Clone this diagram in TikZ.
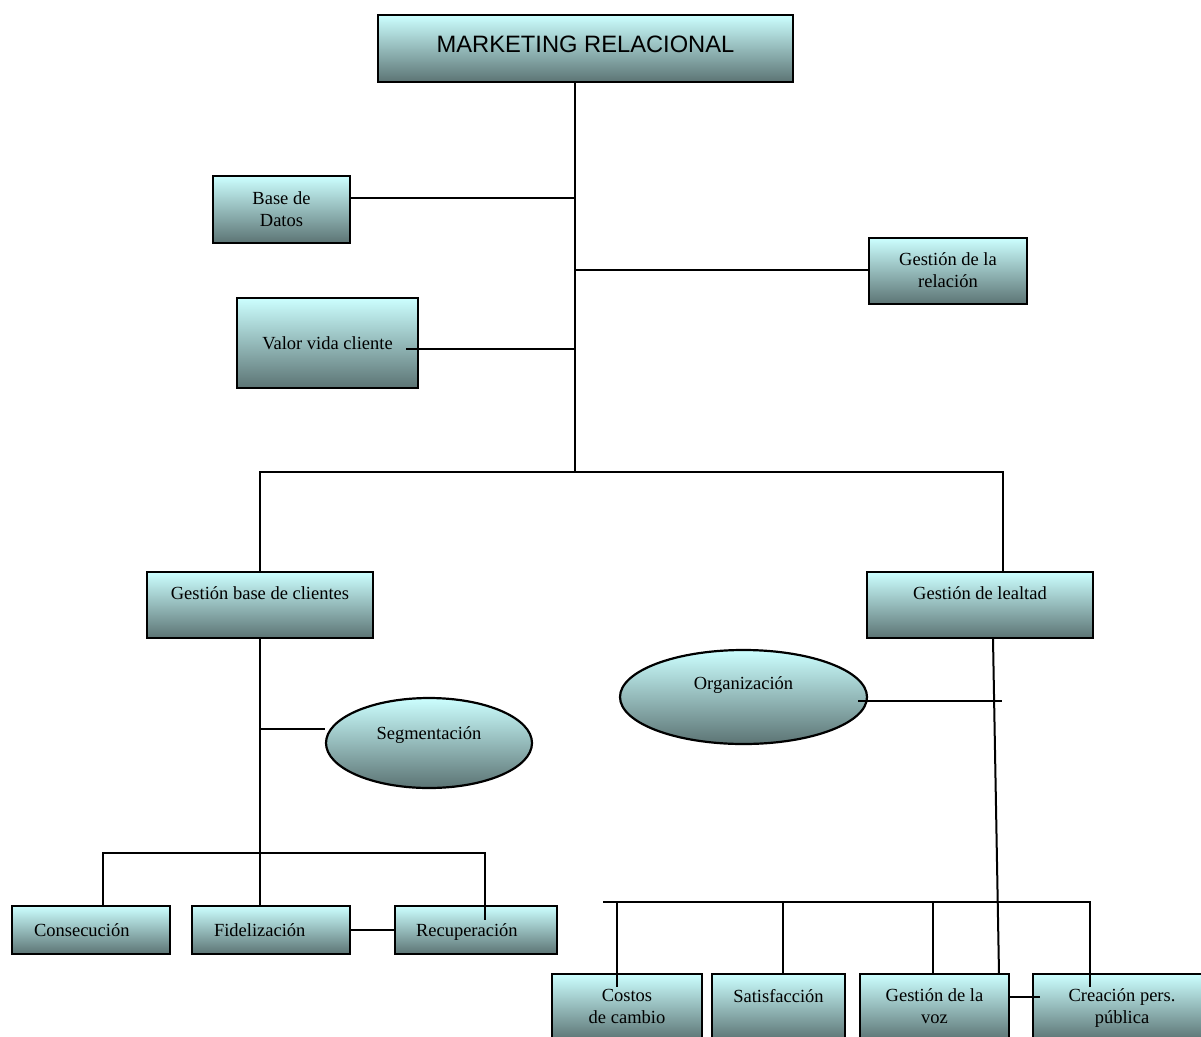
\documentclass[tikz,border=0pt]{standalone}
\usepackage{fontspec}
\setmainfont{Liberation Serif}
\newfontfamily\headfont{Liberation Sans}
\usetikzlibrary{shapes.geometric}
\definecolor{boxtop}{RGB}{204,255,255}
\definecolor{boxbot}{RGB}{92,116,116}
% two-line label with fixed line metrics
\newcommand\twolines[2]{\rule{0pt}{15pt}#1\\#2\rule[-4pt]{0pt}{4pt}}
\tikzset{
  shadebox/.style={draw=black, line width=2.2pt, top color=boxtop, bottom color=boxbot,
    align=center, inner sep=0pt, font=\fontsize{18.5}{22}\selectfont},
  rbox/.style 2 args={shadebox, rectangle, minimum width=#1, minimum height=#2},
  ebox/.style 2 args={shadebox, ellipse, minimum width=#1, minimum height=#2},
  raised/.style={text height=13pt, text depth=#1},
  leftbox/.style={align=left, text width=#1, text height=13pt, text depth=0pt},
  conn/.style={draw=black, line width=2pt},
}
\begin{document}
\begin{tikzpicture}[x=1pt,y=-1pt]
\clip (0,0) rectangle (1201,1036);

% boxes
\node[rbox={415pt}{67pt}, font=\headfont\fontsize{23.7}{28}\selectfont,
      text height=17pt, text depth=10pt] (mr) at (585.5,48.5) {MARKETING RELACIONAL};
\node[rbox={137pt}{67pt}] (bd) at (281.5,209.5) {\twolines{Base de}{Datos}};
\node[rbox={181pt}{90pt}] (vvc) at (327.5,343) {Valor vida cliente};
\node[rbox={158pt}{66pt}] (gr) at (948,271) {\twolines{Gestión de la}{relación}};
\node[rbox={226pt}{66pt}, raised=24pt] (gbc) at (260,605) {Gestión base de clientes};
\node[rbox={226pt}{66pt}, raised=24pt] (gl) at (980,605) {Gestión de lealtad};
\node[ebox={206pt}{90pt}, raised=20pt] (seg) at (429,743) {Segmentación};
\node[ebox={247pt}{94pt}, raised=28pt] (org) at (743.5,697) {Organización};
\node[rbox={158pt}{48pt}, leftbox=114pt] (cons) at (91,930) {Consecución};
\node[rbox={158pt}{48pt}, leftbox=114pt] (fid) at (271,930) {Fidelización};
\node[rbox={162pt}{48pt}, leftbox=120pt] (rec) at (476,930) {Recuperación};
\node[rbox={150pt}{66pt}] (cc) at (627,1007) {\twolines{Costos}{de cambio}};
\node[rbox={133pt}{66pt}, raised=22pt] (sat) at (778.5,1007) {Satisfacción};
\node[rbox={149pt}{66pt}] (gv) at (934.5,1007) {\twolines{Gestión de la}{voz}};
\node[rbox={178pt}{66pt}] (cp) at (1122,1007) {\twolines{Creación pers.}{pública}};

% junction points
\coordinate (jTop) at (575,472);
\coordinate (jBD) at (575,198);
\coordinate (jGR) at (575,270);
\coordinate (jVV) at (575,349);
\coordinate (vvIn) at ([xshift=-13pt]vvc.east);
\coordinate (jL) at (260,472);
\coordinate (jR) at (1003,472);
\coordinate (jSeg) at (260,729);
\coordinate (jCons) at (102.5,852.5);
\coordinate (jRec) at (485,852.5);
\coordinate (recIn) at (485,920);
\coordinate (glOut) at ([xshift=13pt]gl.south);
\coordinate (gvIn) at (999,974);
\coordinate (jOrg) at (1002,701);
\coordinate (orgIn) at (858,701);
\coordinate (bL) at (603,902);
\coordinate (bCC) at (617,902);
\coordinate (ccIn) at (617,987);
\coordinate (bSat) at (783,902);
\coordinate (bGV) at (933,902);
\coordinate (bCP) at (1090,902);
\coordinate (cpIn) at (1090,987);
\coordinate (gvcp) at (1040,997);

% upper trunk
\draw[conn] (mr.south -| jTop) -- (jTop);
\draw[conn] (bd.east |- jBD) -- (jBD);
\draw[conn] (jGR) -- (gr.west |- jGR);
\draw[conn] (vvIn |- jVV) -- (jVV);
\draw[conn] (gbc.north) -- (jL) -- (jR) -- (jR |- gl.north);

% left branch
\draw[conn] (gbc.south) -- (gbc.south |- fid.north);
\draw[conn] (jSeg) -- (seg.west |- jSeg);
\draw[conn] (jCons |- cons.north) -- (jCons) -- (jRec) -- (recIn);
\draw[conn] (fid.east) -- (rec.west);

% right branch
\draw[conn] (glOut) -- (gvIn);
\draw[conn] (orgIn) -- (jOrg);
\draw[conn] (bL) -- (bCP) -- (cpIn);
\draw[conn] (bCC) -- (ccIn);
\draw[conn] (bSat) -- (bSat |- sat.north);
\draw[conn] (bGV) -- (bGV |- gv.north);
\draw[conn] (gv.east |- gvcp) -- (gvcp);
\end{tikzpicture}
\end{document}
